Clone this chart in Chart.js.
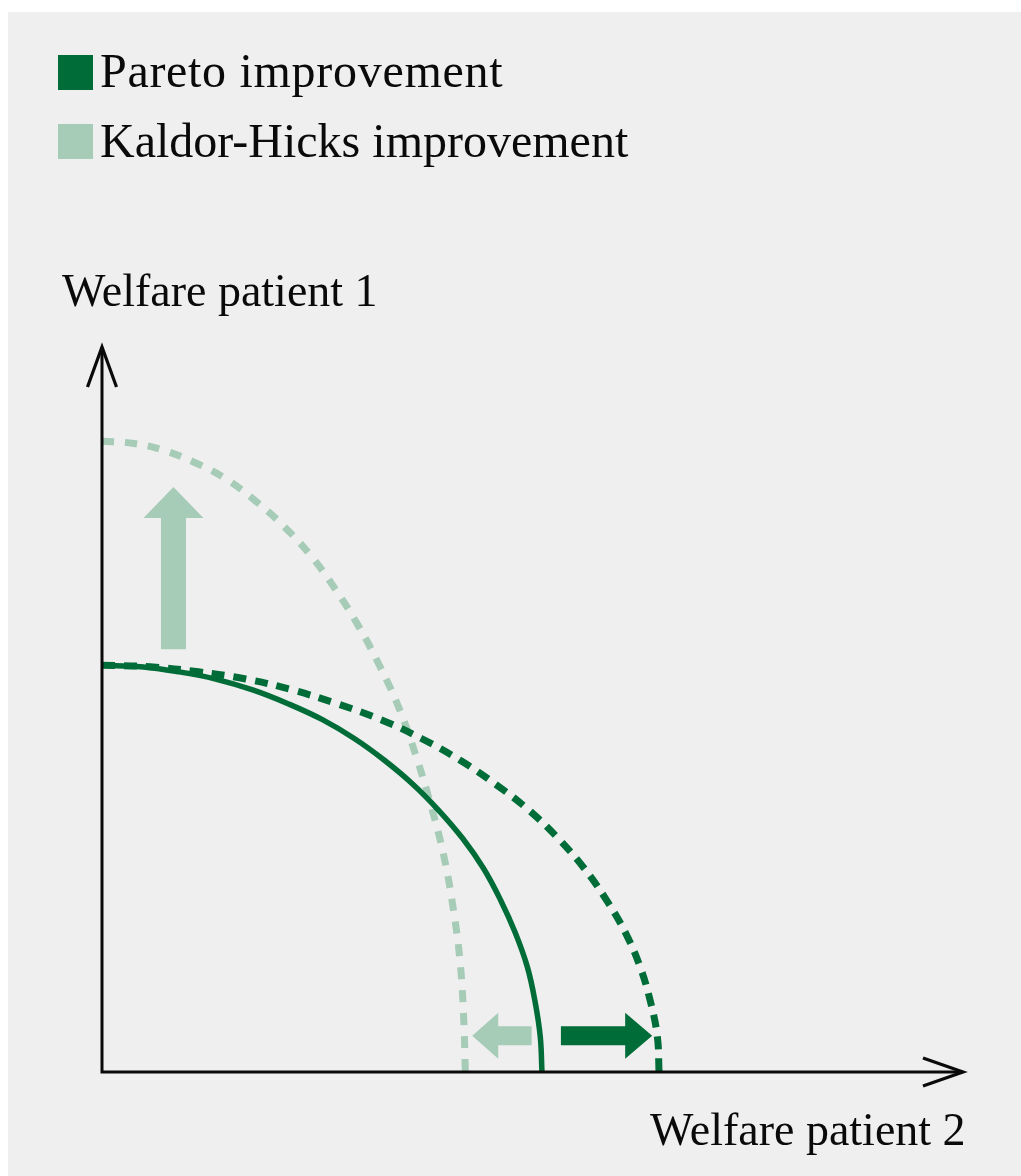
<!DOCTYPE html>
<html>
<head>
<meta charset="utf-8">
<script src="https://cdn.jsdelivr.net/npm/chart.js@4.4.1/dist/chart.umd.min.js"></script>
<style>
  html, body { margin: 0; padding: 0; background: #fff; }
  body { width: 1021px; height: 1176px; position: relative; overflow: hidden; }
  #panel { position: absolute; left: 8px; top: 12px; right: 0; bottom: 0; background: #efefef; }
  #chart { position: absolute; left: 0; top: 0; }
  .txt { position: absolute; font-family: "Liberation Serif", serif; color: #0a0a0a; line-height: 1; white-space: nowrap; }
  .box { position: absolute; width: 35px; height: 35px; }
</style>
</head>
<body>
<div id="panel"></div>
<canvas id="chart" width="1021" height="1176"></canvas>

<div class="box" style="left:58px; top:55px; background:#006d38"></div>
<div class="txt" style="left:100px; top:47px; font-size:48px; letter-spacing:0.7px">Pareto improvement</div>
<div class="box" style="left:58px; top:124px; background:#a6cbb6"></div>
<div class="txt" style="left:100px; top:117px; font-size:48px">Kaldor-Hicks improvement</div>
<div class="txt" style="left:62px; top:268px; font-size:46px">Welfare patient 1</div>
<div class="txt" style="left:650px; top:1107px; font-size:46px">Welfare patient 2</div>

<script>
// courbes (unités arbitraires, axes de 0 à 100)
const paretoX = [0, 4.5, 8.9, 13.2, 17.5, 21.6, 25.6, 29.3, 32.8, 36.1, 39.1, 41.9, 44.3, 46.3, 48.0, 49.4, 50.3, 50.9, 51.1];
const paretoY = [56.1, 55.9, 55.2, 54.2, 52.7, 50.8, 48.6, 46.0, 43.0, 39.7, 36.1, 32.2, 28.1, 23.7, 19.2, 14.5, 9.7, 4.9, 0];

const paretoNewX = [0, 5.6, 11.2, 16.7, 22.1, 27.3, 32.4, 37.1, 41.6, 45.7, 49.6, 53.0, 56.0, 58.6, 60.8, 62.5, 63.7, 64.5, 64.7];
const paretoNewY = [56.1, 55.9, 55.2, 54.2, 52.7, 50.8, 48.6, 46.0, 43.0, 39.7, 36.1, 32.2, 28.1, 23.7, 19.2, 14.5, 9.7, 4.9, 0];

const kaldorX = [0, 3.7, 7.3, 10.9, 14.4, 17.8, 21.1, 24.2, 27.1, 29.8, 32.3, 34.6, 36.5, 38.2, 39.7, 40.8, 41.6, 42.0, 42.2];
const kaldorY = [87.0, 86.7, 85.7, 84.0, 81.8, 78.8, 75.3, 71.3, 66.6, 61.5, 55.9, 49.9, 43.5, 36.8, 29.8, 22.5, 15.1, 7.6, 0];

// flèches pleines (queue -> pointe)
const arrowTailX = [8.3, 49.9, 53.3];
const arrowTailY = [58.3, 5.0, 5.0];
const arrowTipX = [8.3, 43.0, 63.9];
const arrowTipY = [80.7, 5.0, 5.0];

const darkGreen = '#006d38';
const lightGreen = '#a6cbb6';

// style des flèches : couleur, largeur du corps, largeur et longueur de la tête (px)
const arrowStyle = [
    { color: lightGreen, shaft: 25, head: 60, headLen: 31 },
    { color: lightGreen, shaft: 19, head: 46, headLen: 26 },
    { color: darkGreen, shaft: 19, head: 46, headLen: 27 }
];

function toPoints(xs, ys) {
    return xs.map((x, i) => ({ x: x, y: ys[i] }));
}

// axes avec pointes ouvertes + flèches pleines
const drawExtras = {
    id: 'drawExtras',
    afterDatasetsDraw(chart) {
        const ctx = chart.ctx;
        const sx = chart.scales.x;
        const sy = chart.scales.y;

        // flèches pleines
        arrowTipX.forEach((tx, i) => {
            const st = arrowStyle[i];
            const x0 = sx.getPixelForValue(arrowTailX[i]);
            const y0 = sy.getPixelForValue(arrowTailY[i]);
            const x1 = sx.getPixelForValue(tx);
            const y1 = sy.getPixelForValue(arrowTipY[i]);
            const len = Math.hypot(x1 - x0, y1 - y0);
            const ang = Math.atan2(y1 - y0, x1 - x0);
            ctx.save();
            ctx.translate(x0, y0);
            ctx.rotate(ang);
            ctx.fillStyle = st.color;
            ctx.beginPath();
            ctx.moveTo(0, -st.shaft / 2);
            ctx.lineTo(len - st.headLen, -st.shaft / 2);
            ctx.lineTo(len - st.headLen, -st.head / 2);
            ctx.lineTo(len, 0);
            ctx.lineTo(len - st.headLen, st.head / 2);
            ctx.lineTo(len - st.headLen, st.shaft / 2);
            ctx.lineTo(0, st.shaft / 2);
            ctx.closePath();
            ctx.fill();
            ctx.restore();
        });

        // axes
        const ox = sx.getPixelForValue(0);
        const oy = sy.getPixelForValue(0);
        const xEnd = sx.getPixelForValue(100);
        const yEnd = sy.getPixelForValue(100);
        ctx.save();
        ctx.strokeStyle = '#0a0a0a';
        ctx.lineWidth = 3;
        ctx.lineCap = 'butt';
        ctx.beginPath();
        ctx.moveTo(ox, oy + 1.5);
        ctx.lineTo(ox, yEnd);
        ctx.moveTo(ox - 1.5, oy);
        ctx.lineTo(xEnd, oy);
        ctx.stroke();

        ctx.lineWidth = 3.2;
        ctx.lineJoin = 'miter';
        ctx.beginPath();
        ctx.moveTo(ox - 14.5, yEnd + 40);
        ctx.lineTo(ox, yEnd);
        ctx.lineTo(ox + 14.5, yEnd + 40);
        ctx.moveTo(xEnd - 40, oy - 14);
        ctx.lineTo(xEnd, oy);
        ctx.lineTo(xEnd - 40, oy + 14);
        ctx.stroke();
        ctx.restore();
    }
};

new Chart(document.getElementById('chart'), {
    type: 'scatter',
    data: {
        datasets: [
            {
                label: 'Pareto frontier',
                data: toPoints(paretoX, paretoY),
                showLine: true,
                borderColor: darkGreen,
                borderWidth: 5.5,
                tension: 0.4,
                pointRadius: 0,
                clip: false
            },
            {
                label: 'Pareto improvement',
                data: toPoints(paretoNewX, paretoNewY),
                showLine: true,
                borderColor: darkGreen,
                borderWidth: 7,
                borderDash: [13, 9],
                tension: 0.4,
                pointRadius: 0,
                clip: false
            },
            {
                label: 'Kaldor-Hicks improvement',
                data: toPoints(kaldorX, kaldorY),
                showLine: true,
                borderColor: lightGreen,
                borderWidth: 7,
                borderDash: [12, 11],
                tension: 0.4,
                pointRadius: 0,
                clip: false
            }
        ]
    },
    options: {
        responsive: false,
        animation: false,
        layout: { padding: { left: 102, top: 347, right: 58, bottom: 104 } },
        scales: {
            x: { type: 'linear', min: 0, max: 100, display: false },
            y: { type: 'linear', min: 0, max: 100, display: false }
        },
        plugins: {
            legend: { display: false },
            tooltip: { enabled: false }
        }
    },
    plugins: [drawExtras]
});
</script>
</body>
</html>
